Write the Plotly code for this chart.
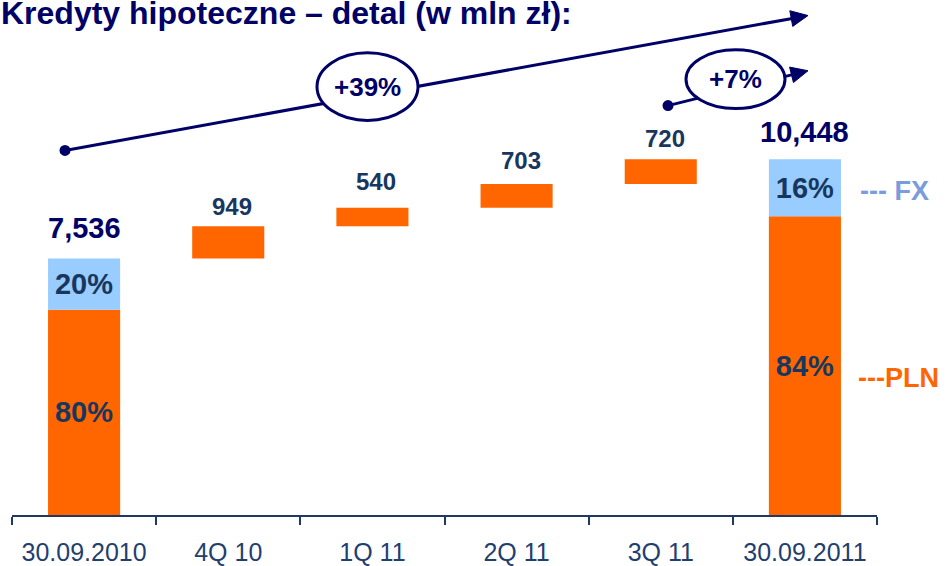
import math
import plotly.graph_objects as go

# ---------------- data ----------------
categories = ["30.09.2010", "4Q 10", "1Q 11", "2Q 11", "3Q 11", "30.09.2011"]
start_total = 7536
increments = [949, 540, 703, 720]
end_total = 10448
fx_share = [20, 16]      # % FX in start / end totals
pln_share = [80, 84]     # % PLN in start / end totals
growth_total = "+39%"
growth_quarter = "+7%"
title_text = "Kredyty hipoteczne – detal (w mln zł):"

# ---------------- styles ----------------
ORANGE = "#FF6600"
LIGHTBLUE = "#99CCFF"
NAVY = "#000066"
DARKBLUE = "#17375E"
FXTXT = "#7A9CDC"
FONT = "Liberation Sans, Arial, sans-serif"

PLOT_L, PLOT_R, PLOT_B = 12, 877, 517   # plot area in page pixels

totals = [start_total, end_total]
total_cats = [categories[0], categories[-1]]
pln_vals = [t * p / 100 for t, p in zip(totals, pln_share)]
fx_vals = [t * f / 100 for t, f in zip(totals, fx_share)]

inc_cats = categories[1:5]
bases = []
run = start_total
for v in increments:
    bases.append(run)
    run += v

fig = go.Figure()

fig.add_trace(go.Bar(
    x=total_cats, y=pln_vals, base=[0, 0], width=0.5,
    marker=dict(color=ORANGE, line=dict(width=0)),
    text=[f"{p}%" for p in pln_share], textposition="inside",
    insidetextanchor="middle", textangle=0, constraintext="none",
    textfont=dict(family=FONT, size=29, color=DARKBLUE, weight="bold"),
    showlegend=False, hoverinfo="skip"))

fig.add_trace(go.Bar(
    x=total_cats, y=fx_vals, base=pln_vals, width=0.5,
    marker=dict(color=LIGHTBLUE, line=dict(width=0)),
    text=[f"{f}%" for f in fx_share], textposition="inside",
    insidetextanchor="middle", textangle=0, constraintext="none",
    textfont=dict(family=FONT, size=29, color=DARKBLUE, weight="bold"),
    showlegend=False, hoverinfo="skip"))

fig.add_trace(go.Bar(
    x=inc_cats, y=increments, base=bases, width=0.5,
    marker=dict(color=ORANGE, line=dict(width=0)),
    showlegend=False, hoverinfo="skip"))

annotations = []
# total labels
for c, t, ys in zip(total_cats, totals, [30, 27]):
    annotations.append(dict(x=c, y=t, xref="x", yref="y", text=f"{t:,}",
                            showarrow=False, yanchor="middle", yshift=ys,
                            font=dict(family=FONT, size=29, color=NAVY, weight="bold")))
# increment labels
for c, b, v, ys in zip(inc_cats, bases, increments, [20, 26, 23, 21]):
    annotations.append(dict(x=c, y=b + v, xref="x", yref="y", text=f"{v:,}",
                            showarrow=False, yanchor="middle", yshift=ys, xshift=4,
                            font=dict(family=FONT, size=24, color=DARKBLUE, weight="bold")))

# title
annotations.append(dict(x=0, y=13, xref="paper", yref="y2", text=title_text,
                        showarrow=False, xanchor="left", yanchor="middle", xshift=-13,
                        font=dict(family=FONT, size=32, color=NAVY, weight="bold")))
# legend-like labels
W = PLOT_R - PLOT_L
annotations.append(dict(x=(858 - PLOT_L) / W, y=192, xref="paper", yref="y2", text="--- FX",
                        showarrow=False, xanchor="left", yanchor="middle",
                        font=dict(family=FONT, size=27, color=FXTXT, weight="bold")))
annotations.append(dict(x=(856 - PLOT_L) / W, y=379, xref="paper", yref="y2", text="---PLN",
                        showarrow=False, xanchor="left", yanchor="middle",
                        font=dict(family=FONT, size=27, color=ORANGE, weight="bold")))
# growth labels
annotations.append(dict(x=367.5, y=87, xref="x2", yref="y2", text=growth_total,
                        showarrow=False, font=dict(family=FONT, size=26, color=NAVY, weight="bold")))
annotations.append(dict(x=735.5, y=79.5, xref="x2", yref="y2", text=growth_quarter,
                        showarrow=False, font=dict(family=FONT, size=26, color=NAVY, weight="bold")))

shapes = []
# arrows (decoration, in pixel-like overlay axes)
HEAD_L, HEAD_W = 17, 8
for (x0, y0, x1, y1) in [(65, 151, 808, 15.6), (668, 106, 808, 71)]:
    dx, dy = x1 - x0, y1 - y0
    n = math.hypot(dx, dy)
    ux, uy = dx / n, dy / n
    bx, by = x1 - HEAD_L * ux, y1 - HEAD_L * uy
    px, py = -uy, ux
    shapes.append(dict(type="line", xref="x2", yref="y2", x0=x0, y0=y0, x1=bx + ux, y1=by + uy,
                       line=dict(color=NAVY, width=3), layer="above"))
    shapes.append(dict(type="path", xref="x2", yref="y2",
                       path=(f"M{x1},{y1} L{bx + HEAD_W * px},{by + HEAD_W * py} "
                             f"L{bx - HEAD_W * px},{by - HEAD_W * py} Z"),
                       fillcolor=NAVY, line=dict(color=NAVY, width=1), layer="above"))
    shapes.append(dict(type="circle", xref="x2", yref="y2", x0=x0 - 5.5, x1=x0 + 5.5,
                       y0=y0 - 5.5, y1=y0 + 5.5, fillcolor=NAVY,
                       line=dict(color=NAVY, width=0), layer="above"))

shapes += [
    dict(type="circle", xref="x2", yref="y2", x0=317, x1=418, y0=53, y1=121,
         line=dict(color=NAVY, width=3), fillcolor="white", layer="above"),
    dict(type="circle", xref="x2", yref="y2", x0=686, x1=785, y0=50, y1=109,
         line=dict(color=NAVY, width=3), fillcolor="white", layer="above"),
]

# invisible trace so overlay axes x2/y2 exist
fig.add_trace(go.Scatter(x=[PLOT_L], y=[PLOT_B], xaxis="x2", yaxis="y2", mode="markers",
                         marker=dict(size=1, opacity=0), showlegend=False, hoverinfo="skip"))

fig.update_layout(
    width=947, height=566,
    margin=dict(l=PLOT_L, r=947 - PLOT_R, t=0, b=566 - PLOT_B),
    paper_bgcolor="white", plot_bgcolor="white",
    barmode="overlay", bargap=0.5,
    xaxis=dict(type="category", categoryorder="array", categoryarray=categories,
               showline=True, linecolor="#1F3864", linewidth=1.5,
               ticks="outside", ticklen=8, tickcolor="#1F3864", tickwidth=1.5,
               tickson="boundaries", ticklabelstandoff=14,
               tickfont=dict(family=FONT, size=25, color="#1F3F6F"),
               showgrid=False, zeroline=False, fixedrange=True),
    yaxis=dict(range=[0, 15130], visible=False, showgrid=False, zeroline=False,
               fixedrange=True),
    xaxis2=dict(range=[PLOT_L, PLOT_R], overlaying="x", visible=False, fixedrange=True),
    yaxis2=dict(range=[PLOT_B, 0], overlaying="y", visible=False, fixedrange=True),
    annotations=annotations, shapes=shapes,
    font=dict(family=FONT),
)

fig.write_html("out.html", config={"displayModeBar": False},
               post_script="document.body.style.margin='0';document.body.style.overflow='hidden';")
